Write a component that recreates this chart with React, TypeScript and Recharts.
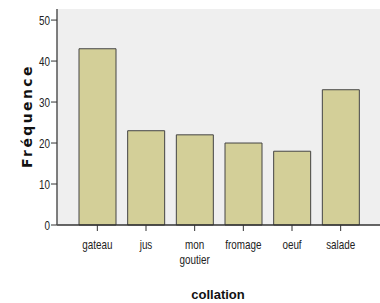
import { BarChart, Bar, XAxis, YAxis, CartesianGrid } from "recharts";

const categories = ["gateau", "jus", "mon goutier", "fromage", "oeuf", "salade"];
const frequencies = [43, 23, 22, 20, 18, 33];
const yTicks = [0, 10, 20, 30, 40, 50];

const data = categories.map((name, i) => ({ name, freq: frequencies[i] }));

const sans = "'Liberation Sans', Arial, sans-serif";
const squeeze = 0.76;

function CatTick(props: any) {
  const { x, y, payload } = props;
  const lines = String(payload.value).split(" ");
  return (
    <g transform={`translate(${x},${y}) scale(${squeeze},1)`}>
      <text x={0} y={0} textAnchor="middle" fontFamily={sans} fontSize={13} fill="#222">
        {lines.map((l, i) => (
          <tspan key={i} x={0} dy={i === 0 ? 18 : 15}>
            {l}
          </tspan>
        ))}
      </text>
    </g>
  );
}

function ValTick(props: any) {
  const { x, y, payload } = props;
  return (
    <g transform={`translate(${x},${y}) scale(${squeeze},1)`}>
      <text x={0} y={0} dy={4.5} textAnchor="end" fontFamily={sans} fontSize={13} fill="#222">
        {payload.value}
      </text>
    </g>
  );
}

export default function App() {
  return (
    <div style={{ position: "absolute", left: 0, top: 0, width: 380, height: 303, background: "#fff" }}>
      <BarChart width={380} height={303} data={data} margin={{ top: 9, right: -1, left: 0, bottom: 38 }}>
        <CartesianGrid fill="#efefef" horizontal={false} vertical={false} />
        <XAxis
          xAxisId="top"
          orientation="top"
          dataKey="name"
          height={0}
          tick={false}
          tickLine={false}
          axisLine={{ stroke: "#666", strokeWidth: 1.5 }}
          padding={{ left: 16, right: 16 }}
        />
        <XAxis
          dataKey="name"
          height={40}
          interval={0}
          tick={<CatTick />}
          tickSize={6}
          tickMargin={0}
          tickLine={{ stroke: "#333" }}
          axisLine={{ stroke: "#333", strokeWidth: 1.5 }}
          padding={{ left: 16, right: 16 }}
        />
        <YAxis
          width={57}
          domain={[0, 52.7]}
          ticks={yTicks}
          interval={0}
          tickSize={6}
          tickMargin={1}
          tickLine={{ stroke: "#333" }}
          axisLine={{ stroke: "#555", strokeWidth: 1.5 }}
          tick={<ValTick />}
        />
        <Bar
          dataKey="freq"
          barSize={37}
          fill="#d3cf98"
          stroke="#444"
          strokeWidth={1}
          isAnimationActive={false}
        />
        <text
          x={27}
          y={116}
          transform="rotate(-90 27 116)"
          textAnchor="middle"
          dominantBaseline="central"
          fontFamily="'DejaVu Sans', Verdana, sans-serif"
          fontWeight="bold"
          fontSize={14}
          letterSpacing={2.4}
          fill="#111"
        >
          Fréquence
        </text>
        <text
          x={218}
          y={299}
          textAnchor="middle"
          fontFamily={sans}
          fontWeight="bold"
          fontSize={13}
          fill="#111"
        >
          collation
        </text>
      </BarChart>
    </div>
  );
}
